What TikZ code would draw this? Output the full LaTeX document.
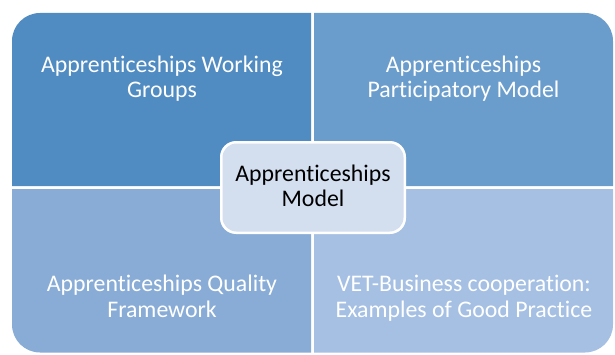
\documentclass[tikz,border=0pt]{standalone}
\usepackage{fontspec}
\setmainfont{Carlito}[Ligatures=NoCommon,RawFeature=-liga]
\definecolor{qone}{HTML}{508BC1}
\definecolor{qtwo}{HTML}{6B9DCC}
\definecolor{qthree}{HTML}{88ACD6}
\definecolor{qfour}{HTML}{A5C0E3}
\definecolor{qcenter}{HTML}{D3DEEF}
\begin{document}
\begin{tikzpicture}[x=1pt,y=1pt,
  qlabel/.style={text=white,align=center,inner sep=0pt,
    font=\fontsize{23.8}{26}\selectfont},
  clabel/.style={text=black,align=center,inner sep=0pt,
    font=\fontsize{23.8}{24.5}\selectfont}]
\useasboundingbox (0,0) rectangle (615,354);
\def\rr{28}
% quadrants
\fill[qone] (12,168) -- (12,341-\rr) arc[start angle=180,end angle=90,radius=\rr] -- (311,341) -- (311,168) -- cycle;
\fill[qtwo] (314,168) -- (314,341) -- (613-\rr,341) arc[start angle=90,end angle=0,radius=\rr] -- (613,168) -- cycle;
\fill[qthree] (12,165) -- (12,1.5+\rr) arc[start angle=180,end angle=270,radius=\rr] -- (311,1.5) -- (311,165) -- cycle;
\fill[qfour] (314,165) -- (314,1.5) -- (613-\rr,1.5) arc[start angle=270,end angle=360,radius=\rr] -- (613,165) -- cycle;
% labels
\node[qlabel] (tl) at (162,274.2) {\strut Apprenticeships Working\\\strut Groups};
\node[qlabel] (tr) at (463.5,274.2) {\strut Apprenticeships\\\strut Participatory Model};
\node[qlabel] (bl) at (162,54.7) {\strut Apprenticeships Quality\\\strut Framework};
\node[qlabel] (br) at (464,55.2) {\strut VET-Business cooperation:\\\strut Examples of Good Practice};
% center
\fill[white, rounded corners=16] (220,120) rectangle (406,213);
\fill[qcenter, rounded corners=14] (222.5,122.5) rectangle (403.5,210.5);
\node[clabel] (c) at (313,164.9) {\strut Apprenticeships\\\strut Model};
\end{tikzpicture}
\end{document}
